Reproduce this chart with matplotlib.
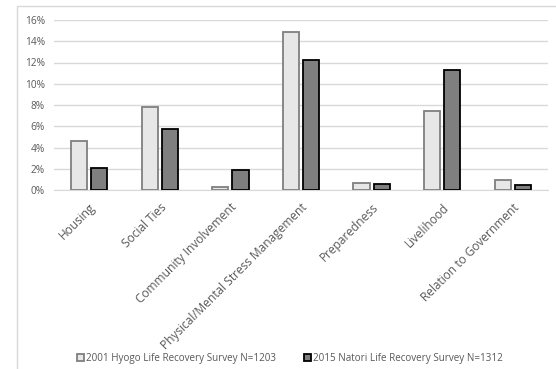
import matplotlib
matplotlib.use("Agg")
import matplotlib.pyplot as plt
from matplotlib.patches import Rectangle
from matplotlib.transforms import ScaledTranslation
import numpy as np

categories = ["Housing", "Social Ties", "Community Involvement",
              "Physical/Mental Stress Management", "Preparedness",
              "Livelihood", "Relation to Government"]
hyogo_2001 = [4.6, 7.8, 0.3, 14.9, 0.7, 7.4, 0.9]
natori_2015 = [2.1, 5.7, 1.9, 12.2, 0.6, 11.3, 0.5]
series_labels = ["2001 Hyogo Life Recovery Survey N=1203",
                 "2015 Natori Life Recovery Survey N=1312"]
yticks = [0, 2, 4, 6, 8, 10, 12, 14, 16]

plt.rcParams['font.family'] = ['Open Sans', 'DejaVu Sans']
W, H = 556, 369
fig = plt.figure(figsize=(W / 100, H / 100), dpi=100)

# chart-area frame
fig.patches.append(Rectangle((17 / W, -0.05), 1.0, 1 - 6 / H + 0.05,
                             transform=fig.transFigure, fill=False,
                             edgecolor="#d9d9d9", linewidth=1.0))

ax = fig.add_axes([54 / W, 1 - 190 / H, (548 - 54) / W, 170 / H])
x = np.arange(len(categories))
bw = 0.23
gap = 0.055
ax.bar(x - (bw + gap) / 2, hyogo_2001, bw, color="#e7e7e7",
       edgecolor="#7f7f7f", linewidth=1.3, label=series_labels[0], zorder=3)
ax.bar(x + (bw + gap) / 2, natori_2015, bw, color="#7f7f7f",
       edgecolor="#000000", linewidth=1.3, label=series_labels[1], zorder=3)

ax.set_xlim(-0.5, len(categories) - 0.5)
ax.set_ylim(0, 16)
ax.set_yticks(yticks)
ax.set_yticklabels([f"{v}%" for v in yticks])
ax.yaxis.grid(True, color="#d9d9d9", linewidth=1.0, zorder=0)
ax.set_axisbelow(True)
for s in ["top", "right", "left"]:
    ax.spines[s].set_visible(False)
ax.spines["bottom"].set_color("#d9d9d9")
ax.tick_params(axis="both", length=0, colors="#595959")
ax.tick_params(axis="y", pad=6.5, labelsize=7.3)
ax.set_xticks(x)
ax.set_xticklabels(categories, rotation=45, ha="right",
                   rotation_mode="anchor", fontsize=8.6)
shift = ScaledTranslation(4 / 100, 0, fig.dpi_scale_trans)
for lbl in ax.get_xticklabels():
    lbl.set_transform(lbl.get_transform() + shift)
ax.tick_params(axis="x", pad=8)

fig.legend(loc="center", bbox_to_anchor=(290 / W, 1 - 358 / H), ncol=2,
           frameon=False, fontsize=7.1, labelcolor="#595959",
           handlelength=0.7, handleheight=0.7, handletextpad=0.2,
           columnspacing=2.9)

fig.savefig("out.png", dpi=100)
